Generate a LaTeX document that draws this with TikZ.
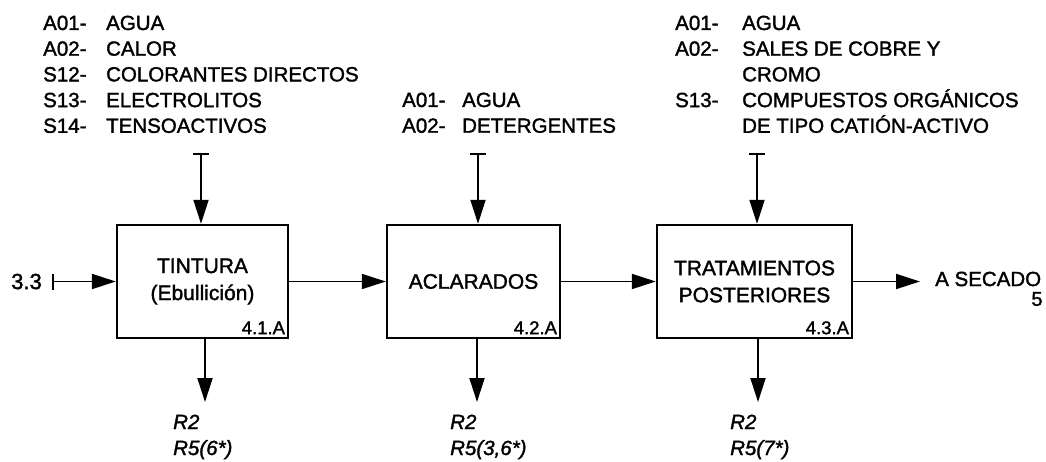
\documentclass[tikz,border=0pt]{standalone}
\usepackage{fontspec}
\setmainfont{Liberation Sans}[FakeBold=1.6]
\usetikzlibrary{arrows.meta,calc}
\begin{document}
\begin{tikzpicture}[x=1pt,y=-1pt,
  box/.style={draw,line width=2.4pt,inner sep=0pt,minimum height=113pt,align=center,font=\fontsize{21}{27}\selectfont},
  flow/.style={line width=1.9pt,-{Triangle[length=24pt,width=15pt]}},
  feed/.style={line width=1.9pt,{Bar[width=16pt,line width=2.2pt]}-{Triangle[length=24pt,width=15pt]}},
  lab/.style={inner sep=0pt,font=\fontsize{20.5}{25.7}\selectfont},
  res/.style={inner sep=0pt,font=\fontsize{20.5}{26}\selectfont\itshape},
  code/.style={inner sep=0pt,font=\fontsize{18.5}{20}\selectfont}]
\useasboundingbox (0,0) rectangle (1046,462);
% boxes
\node[box,minimum width=171pt] (b1) at (202.5,281.5) {TINTURA\\(Ebullición)};
\node[box,minimum width=173pt] (b2) at (473.5,281.5) {ACLARADOS};
\node[box,minimum width=195pt] (b3) at (754.5,281.5) {TRATAMIENTOS\\POSTERIORES};
\node[code,anchor=base east] (n1) at ($(b1.south east)+(-4,-5)$) {4.1.A};
\node[code,anchor=base east] (n2) at ($(b2.south east)+(-4,-5)$) {4.2.A};
\node[code,anchor=base east] (n3) at ($(b3.south east)+(-4,-5)$) {4.3.A};
% inputs from above
\node[lab,anchor=base west] (in1) at (43,30) {\begin{tabular}[t]{@{}p{63pt}@{}l@{}}A01- & AGUA\\ A02- & CALOR\\ S12- & COLORANTES DIRECTOS\\ S13- & ELECTROLITOS\\ S14- & TENSOACTIVOS\end{tabular}};
\node[lab,anchor=base west] (in2) at (402,107) {\begin{tabular}[t]{@{}p{60pt}@{}l@{}}A01- & AGUA\\ A02- & DETERGENTES\end{tabular}};
\node[lab,anchor=base west] (in3) at (675,30) {\begin{tabular}[t]{@{}p{67pt}@{}l@{}}A01- & AGUA\\ A02- & SALES DE COBRE Y\\ & CROMO\\ S13- & COMPUESTOS ORGÁNICOS\\ & DE TIPO CATIÓN-ACTIVO\end{tabular}};
\coordinate (t1) at (201,153);
\coordinate (t2) at (478,153);
\coordinate (t3) at (757,153);
\draw[feed] (t1) -- (t1 |- b1.north);
\draw[feed] (t2) -- (t2 |- b2.north);
\draw[feed] (t3) -- (t3 |- b3.north);
% outputs below
\coordinate (o1) at (205,402);
\coordinate (o2) at (477,402);
\coordinate (o3) at (758,402);
\draw[flow] (o1 |- b1.south) -- (o1);
\draw[flow] (o2 |- b2.south) -- (o2);
\draw[flow] (o3 |- b3.south) -- (o3);
\node[res,anchor=base west] (r1) at (173,429) {\begin{tabular}[t]{@{}l@{}}R2\\ R5(6*)\end{tabular}};
\node[res,anchor=base west] (r2) at (450,429) {\begin{tabular}[t]{@{}l@{}}R2\\ R5(3,6*)\end{tabular}};
\node[res,anchor=base west] (r3) at (730,429) {\begin{tabular}[t]{@{}l@{}}R2\\ R5(7*)\end{tabular}};
% main flow
\node[inner sep=0pt,font=\fontsize{22}{24}\selectfont,anchor=east] (src) at (42,281.5) {3.3};
\coordinate (s) at (52,281.5);
\draw[feed] (s) -- (b1.west);
\draw[flow] (b1.east) -- (b2.west);
\draw[flow] (b2.east) -- (b3.west);
\coordinate (e) at (920,281.5);
\draw[flow] (b3.east) -- (e);
\node[lab,anchor=west] (sec) at (935,279) {A SECADO};
\node[inner sep=0pt,font=\fontsize{20}{22}\selectfont] (five) at (1037,299) {5};
\end{tikzpicture}
\end{document}
